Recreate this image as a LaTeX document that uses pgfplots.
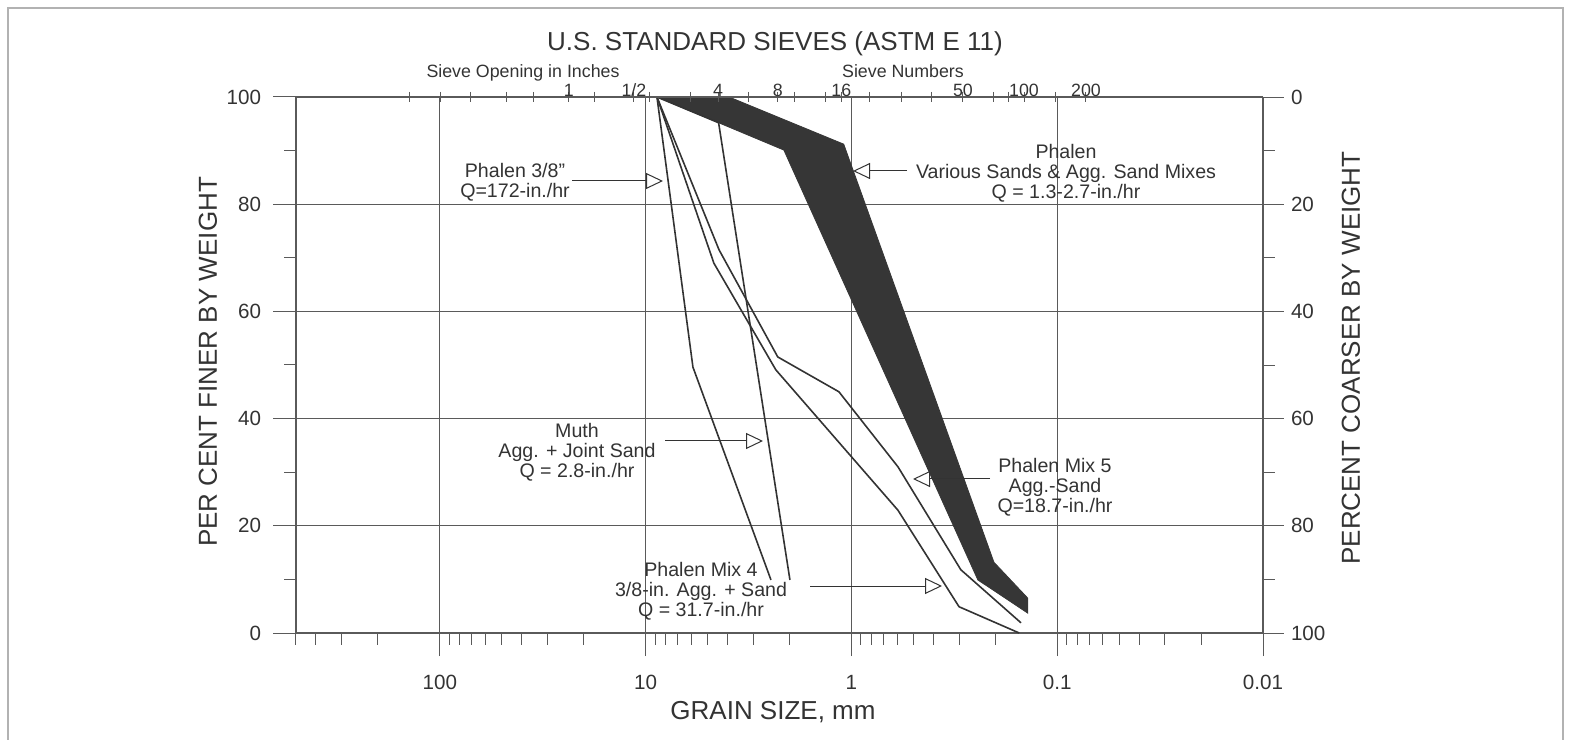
\documentclass[border=0pt]{standalone}
\usepackage{fontspec}
\setmainfont{Liberation Sans}
\usepackage{pgfplots}
\pgfplotsset{compat=1.18}
\usetikzlibrary{arrows.meta}
\definecolor{ink}{HTML}{333333}
\definecolor{gridc}{HTML}{5A5A5A}
\definecolor{band}{HTML}{363636}
\pgfkeys{/pgf/number format/assume math mode=true}
\begin{document}
\begin{tikzpicture}
\path[use as bounding box] (0,0) rectangle (789pt,369.5pt);
\begin{semilogxaxis}[at={(148pt,53pt)}, anchor=south west, scale only axis,
  width=483.5pt, height=268pt, x dir=reverse, xmin=0.01, xmax=500,
  ymin=0, ymax=100, tick style={color=gridc, line width=0.5pt},
  axis line style={color=gridc, line width=0.6pt}, ticklabel style={text=ink},
  axis x line*=bottom, axis y line*=left, tick align=outside,
  major tick length=11.5pt, minor tick length=5.8pt,
  xtick={0.01,0.1,1,10,100}, xticklabels={0.01,0.1,1,10,100},
  minor xtick={0.02,0.03,0.04,0.05,0.06,0.07,0.08,0.09,0.2,0.3,0.4,0.5,0.6,0.7,0.8,0.9,2,3,4,5,6,7,8,9,20,30,40,50,60,70,80,90,200,300,400,500},
  ytick={0,20,40,60,80,100}, minor ytick={10,30,50,70,90},
  xmajorgrids, ymajorgrids, major grid style={color=gridc, line width=0.5pt},
  xticklabel style={font=\fontsize{10.3}{12}\selectfont, yshift=-6pt},
  yticklabel style={font=\fontsize{10.3}{12}\selectfont, xshift=-2.5pt}]
% Phalen - various sands & agg. sand mixes (band)
\addplot[fill=band, draw=band, line width=0.4pt] coordinates {
  (8.81,100) (3.93,100) (1.09,91.2) (0.203,13.2) (0.139,6.5) (0.139,3.7)
  (0.243,9.9) (2.13,90.1) (4.42,95.2) (8.81,100)};
% Phalen 3/8"
\addplot[ink, line width=0.8pt] coordinates {(8.81,100) (5.89,49.6) (2.46,9.9)};
% Muth
\addplot[ink, line width=0.8pt] coordinates {(8.81,100) (4.42,95.2) (1.99,9.9)};
% Phalen Mix 5
\addplot[ink, line width=0.8pt] coordinates {(8.81,100) (4.40,71.5) (2.28,51.5) (1.15,45.0) (0.594,31.0) (0.294,11.8) (0.150,1.9)};
% Phalen Mix 4
\addplot[ink, line width=0.8pt] coordinates {(8.81,100) (4.66,69.0) (2.33,49.1) (0.594,22.9) (0.300,4.9) (0.153,0)};
\end{semilogxaxis}
\begin{semilogxaxis}[at={(148pt,53pt)}, anchor=south west, scale only axis,
  width=483.5pt, height=268pt, x dir=reverse, xmin=0.01, xmax=500,
  ymin=0, ymax=100, tick style={color=gridc, line width=0.5pt},
  axis line style={color=gridc, line width=0.6pt}, ticklabel style={text=ink},
  axis x line*=top, axis y line=none, tick align=center,
  major tick length=5pt,
  xtick={141,99.8,71.3,47.6,35.2,23.6,17.8,11.4,9.53,6.08,4.45,3.15,2.28,1.90,1.34,1.12,0.813,0.574,0.406,0.287,0.205,0.173,0.145,0.1025,0.0725},
  xticklabels={,,,,,1,,1/2,,,4,,8,,,16,,,,50,,,100,,200},
  xticklabel style={font=\fontsize{8.9}{10}\selectfont, yshift=-6pt}]
\end{semilogxaxis}
\begin{semilogxaxis}[at={(148pt,53pt)}, anchor=south west, scale only axis,
  width=483.5pt, height=268pt, x dir=reverse, xmin=0.01, xmax=500,
  ymin=0, ymax=100, tick style={color=gridc, line width=0.5pt},
  axis line style={color=gridc, line width=0.6pt}, ticklabel style={text=ink},
  y dir=reverse, axis y line*=right, axis x line=none,
  tick align=outside, major tick length=10.5pt, minor tick length=6pt,
  ytick={0,20,40,60,80,100}, minor ytick={10,30,50,70,90},
  yticklabel style={font=\fontsize{10.3}{12}\selectfont}]
\end{semilogxaxis}
\begin{scope}[shift={(0,369.5pt)}, x=0.5pt, y=-0.5pt]
\draw[gray!60, line width=0.6pt] (8,760) -- (8,8) -- (1563,8) -- (1563,760);
\node[text=ink, font=\fontsize{13}{15}\selectfont, anchor=base] at (775,51) {U.S. STANDARD SIEVES (ASTM E 11)};
\node[text=ink, font=\fontsize{8.9}{10}\selectfont, anchor=base] at (523,78) {Sieve Opening in Inches};
\node[text=ink, font=\fontsize{8.9}{10}\selectfont, anchor=base] at (903,78) {Sieve Numbers};
\node[text=ink, font=\fontsize{13}{15}\selectfont, anchor=base] at (773,719) {GRAIN SIZE, mm};
\node[text=ink, font=\fontsize{13}{15}\selectfont, rotate=90] at (208,362) {PER CENT FINER BY WEIGHT};
\node[text=ink, font=\fontsize{13}{15}\selectfont, rotate=90] at (1351,358) {PERCENT COARSER BY WEIGHT};
\begin{scope}[every node/.style={text=ink, font=\fontsize{9.8}{9.9}\selectfont, align=center}]
\node at (515,182) {Phalen 3/8"\\Q=172-in./hr};
\node at (1066,173) {Phalen\\Various Sands \& Agg. Sand Mixes\\Q = 1.3-2.7-in./hr};
\node at (577,452) {Muth\\Agg. + Joint Sand\\Q = 2.8-in./hr};
\node at (1055,487) {Phalen Mix 5\\Agg.-Sand\\Q=18.7-in./hr};
\node at (701,591) {Phalen Mix 4\\3/8-in. Agg. + Sand\\Q = 31.7-in./hr};
\end{scope}
\begin{scope}[ink, line width=0.5pt, -{Triangle[open, length=8.5pt, width=8pt]}]
\draw (572,181) -- (663,181);
\draw (907,171) -- (853,171);
\draw (665,441) -- (763,441);
\draw (990,479) -- (913,479);
\draw (810,586) -- (942,586);
\end{scope}
\end{scope}
\end{tikzpicture}
\end{document}
